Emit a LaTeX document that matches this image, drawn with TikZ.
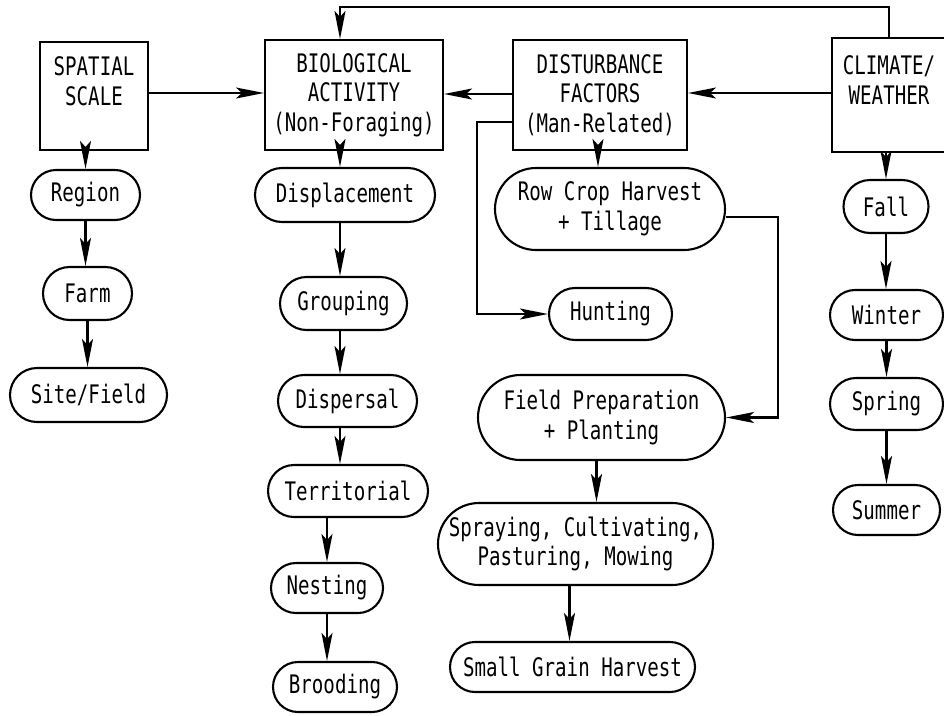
\documentclass[tikz,border=0pt]{standalone}
\usepackage{fontspec}
\newfontfamily\plotfont{DejaVu Sans Mono}[FakeStretch=0.75]
\usetikzlibrary{shapes.misc,arrows.meta}
\begin{document}
\begin{tikzpicture}[x=1pt,y=-1pt,
  every node/.style={font=\plotfont\fontsize{25.5}{29.5}\selectfont, inner sep=0pt, align=center},
  sbox/.style={draw, line width=2.1pt, rectangle},
  stad/.style={draw, line width=2.1pt, rounded rectangle},
  arr/.style={line width=2.1pt, -{Stealth[length=28pt,width=11pt,inset=6pt]}},
  ln/.style={line width=2.1pt}]
\useasboundingbox (0,0) rectangle (944,715);
% header boxes
\node[sbox, minimum width=108pt, minimum height=108pt] (spatial) at (94,96) {SPATIAL\\SCALE\\\mbox{}};
\node[sbox, minimum width=178pt, minimum height=110pt] (bio) at (354,95) {BIOLOGICAL\\ACTIVITY\\(Non-Foraging)};
\node[sbox, minimum width=174pt, minimum height=110pt] (dist) at (600,95) {DISTURBANCE\\FACTORS\\(Man-Related)};
\node[sbox, minimum width=114pt, minimum height=114pt] (climate) at (889,95) {CLIMATE/\\WEATHER\\\mbox{}};
% spatial column
\node[stad, minimum width=109pt, minimum height=50pt] (region) at (85.5,195) {Region};
\node[stad, minimum width=89pt, minimum height=53pt] (farm) at (87.5,293.5) {Farm};
\node[stad, minimum width=157pt, minimum height=54pt] (site) at (88.5,395) {Site/Field};
% biological column
\node[stad, minimum width=180pt, minimum height=54pt] (displ) at (345,195) {Displacement};
\node[stad, minimum width=127pt, minimum height=53pt] (group) at (343.5,303.5) {Grouping};
\node[stad, minimum width=139pt, minimum height=52pt] (disp) at (347.5,401) {Dispersal};
\node[stad, minimum width=160pt, minimum height=52pt] (terr) at (348,491) {Territorial};
\node[stad, minimum width=112pt, minimum height=50pt] (nest) at (327,588) {Nesting};
\node[stad, minimum width=124pt, minimum height=50pt] (brood) at (335,687) {Brooding};
% disturbance column
\node[stad, minimum width=230pt, minimum height=82pt] (rowcrop) at (610,209) {Row Crop Harvest\\+ Tillage};
\node[stad, minimum width=123pt, minimum height=52pt] (hunt) at (610.5,314) {Hunting};
\node[stad, minimum width=247pt, minimum height=85pt] (fieldprep) at (601.5,417.5) {Field Preparation\\+ Planting};
\node[stad, minimum width=275pt, minimum height=82pt] (spray) at (575.5,544) {Spraying, Cultivating,\\Pasturing, Mowing};
\node[stad, minimum width=245pt, minimum height=50pt] (grain) at (572.5,667) {Small Grain Harvest};
% climate column
\node[stad, minimum width=85pt, minimum height=53pt] (fall) at (886,206.5) {Fall};
\node[stad, minimum width=113pt, minimum height=50pt] (winter) at (886.5,315) {Winter};
\node[stad, minimum width=113pt, minimum height=52pt] (spring) at (886.5,404) {Spring};
\node[stad, minimum width=107pt, minimum height=50pt] (summer) at (886.5,510) {Summer};
% helper coordinates
\coordinate (tl) at (340,7);
\coordinate (bx) at (327,0);
\coordinate (hl) at (477,122);
\coordinate (rr) at (778,217);
% top feedback line
\draw[arr] (climate.north) |- (tl) -- (tl |- bio.north);
% horizontal arrows between boxes
\draw[arr] ([yshift=3pt]spatial.east) -- ([yshift=3pt]spatial.east -| bio.west);
\draw[arr] ([yshift=1pt]dist.west) -- ([yshift=1pt]dist.west -| bio.east);
\draw[arr] ([yshift=2pt]climate.west) -- ([yshift=2pt]climate.west -| dist.east);
% spatial column
\draw[arr] (region.north |- spatial.south) -- (region.north);
\draw[arr] (region.south) -- (region.south |- farm.north);
\draw[arr] (farm.south) -- (farm.south |- site.north);
% biological column
\draw[arr] (tl |- bio.south) -- (tl |- displ.north);
\draw[arr] (tl |- displ.south) -- (tl |- group.north);
\draw[arr] (tl |- group.south) -- (tl |- disp.north);
\draw[arr] (tl |- disp.south) -- (tl |- terr.north);
\draw[arr] (bx |- terr.south) -- (bx |- nest.north);
\draw[arr] (bx |- nest.south) -- (bx |- brood.north);
% disturbance column
\draw[arr] ([xshift=-2pt]dist.south) -- ([xshift=-2pt]dist.south |- rowcrop.north);
\draw[arr] (dist.west |- hl) -- (hl) |- (hunt.west);
\draw[arr] (rowcrop.east |- rr) -- (rr) |- (fieldprep.east);
\draw[arr] ([xshift=-5pt]fieldprep.south) -- ([xshift=-5pt]fieldprep.south |- spray.north);
\draw[arr] ([xshift=-6pt]spray.south) -- ([xshift=-6pt]spray.south |- grain.north);
% climate column
\draw[arr] (fall.north |- climate.south) -- (fall.north);
\draw[arr] (fall.south) -- (fall.south |- winter.north);
\draw[arr] (winter.south) -- (winter.south |- spring.north);
\draw[arr] (spring.south) -- (spring.south |- summer.north);
\end{tikzpicture}
\end{document}
